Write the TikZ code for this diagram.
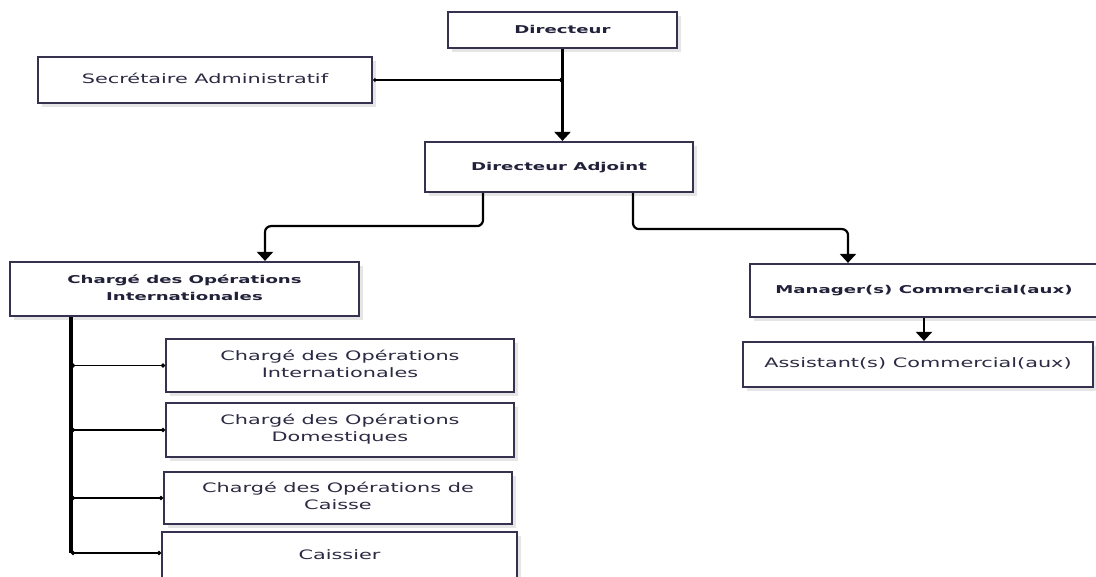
\documentclass[tikz,border=0pt]{standalone}
\usepackage{fontspec}
\setmainfont{DejaVu Sans}
\usetikzlibrary{arrows.meta,shadows}
\definecolor{boxc}{HTML}{34324F}
\definecolor{txtc}{HTML}{2B2A42}
\definecolor{btxtc}{HTML}{22213A}
\newcommand{\rtxt}[1]{\scalebox{1.6}[1]{\fontsize{13}{17}\selectfont\begin{tabular}{@{}c@{}}#1\end{tabular}}}
\newcommand{\btxt}[1]{\scalebox{1.68}[1]{\fontsize{10.8}{17}\selectfont\bfseries\color{btxtc}\begin{tabular}{@{}c@{}}#1\end{tabular}}}
\begin{document}
\begin{tikzpicture}[x=1pt,y=-1pt,
  box/.style={draw=boxc, line width=2.2pt, fill=white, inner sep=0pt, text=txtc,
    drop shadow={shadow xshift=4pt, shadow yshift=-4pt, fill=black!10, opacity=1}},
  conn/.style={line width=2.2pt, draw=black},
  thinconn/.style={line width=1.4pt, draw=black, {Circle[length=3.5pt]}-{Circle[length=3.5pt]}},
  branch/.style={line width=1.9pt, draw=black, {Circle[length=4pt]}-{Circle[length=4pt]}},
  arr/.style={conn, -{Triangle[width=16pt,length=9pt]}}]
\useasboundingbox (0,0) rectangle (1096,577);
\fill[white] (0,0) rectangle (1096,577);

\node[box, minimum width=229pt, minimum height=36pt] (dir) at (562.5,30) {\btxt{Directeur}};
\node[box, minimum width=334pt, minimum height=46pt] (sec) at (205,80) {\rtxt{Secrétaire Administratif}};
\node[box, minimum width=268pt, minimum height=50pt] (adj) at (559,167) {\btxt{Directeur Adjoint}};
\node[box, minimum width=349pt, minimum height=54pt] (coi) at (184.5,289) {\btxt{Chargé des Opérations\\Internationales}};
\node[box, minimum width=348pt, minimum height=53pt] (s1) at (340,365.5) {\rtxt{Chargé des Opérations\\Internationales}};
\node[box, minimum width=348pt, minimum height=54pt] (s2) at (340,430) {\rtxt{Chargé des Opérations\\Domestiques}};
\node[box, minimum width=348pt, minimum height=52pt] (s3) at (338,498) {\rtxt{Chargé des Opérations de\\Caisse}};
\node[box, minimum width=355pt, minimum height=48pt] (s4) at (339.5,556) {\rtxt{Caissier}};
\node[box, minimum width=348pt, minimum height=53pt] (mgr) at (924,290.5) {\btxt{Manager(s) Commercial(aux)}};
\node[box, minimum width=350pt, minimum height=45pt] (ast) at (918,364.5) {\rtxt{Assistant(s) Commercial(aux)}};

% Directeur -> Adjoint
\draw[arr] (dir.south) -- (dir.south |- adj.north);
\coordinate (j) at (dir.south |- sec.east);
\draw[thinconn] (sec.east) -- (j);

% Adjoint -> branches
\draw[arr, rounded corners=6pt] ([xshift=-76pt]adj.south) -- ++(0,33) -| ([xshift=80.5pt]coi.north);
\draw[arr, rounded corners=6pt] ([xshift=74pt]adj.south) -- ++(0,36) -| ([xshift=-76pt]mgr.north);

% Manager -> Assistant
\draw[arr] (mgr.south) -- (mgr.south |- ast.north);

% trunk
\coordinate (tb) at ([xshift=-113.5pt]coi.south);
\coordinate (te) at ([yshift=3pt]tb |- s4.west);
\draw[line width=3.2pt, draw=black] (tb) -- (te);
\draw[branch] (tb |- s1.west) -- (s1.west);
\draw[branch] (tb |- s2.west) -- (s2.west);
\draw[branch] (tb |- s3.west) -- (s3.west);
\draw[branch] (te) -- (te -| s4.west);
\end{tikzpicture}
\end{document}
